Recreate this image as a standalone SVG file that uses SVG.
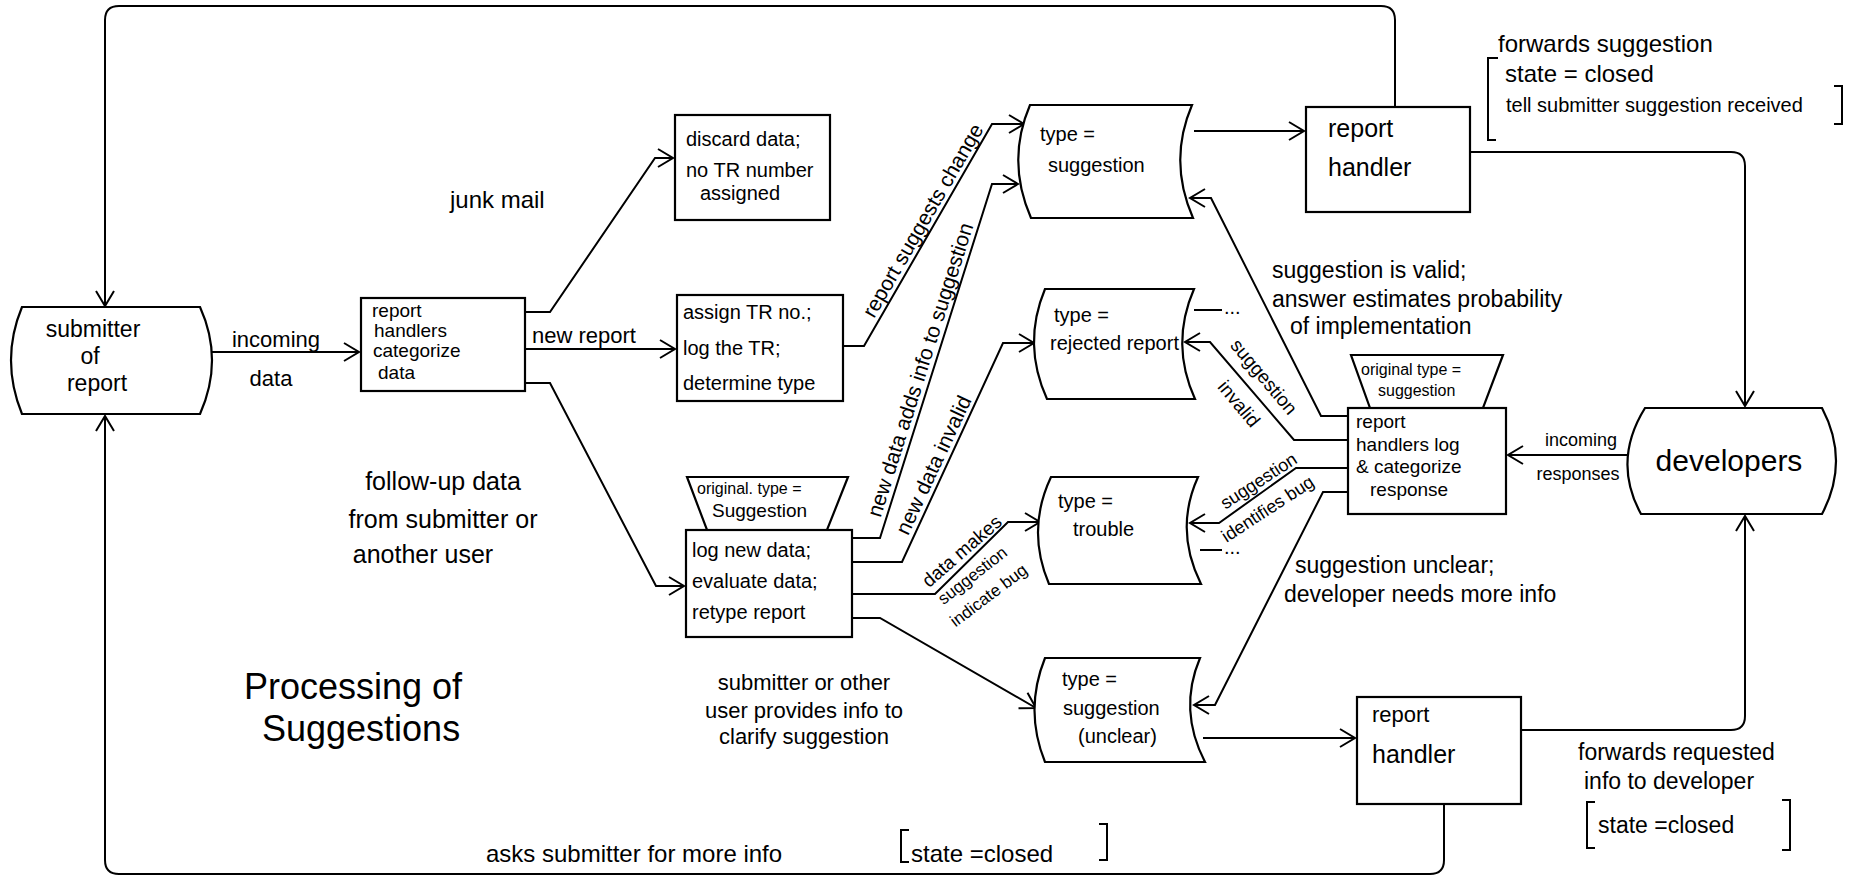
<svg xmlns="http://www.w3.org/2000/svg" width="1867" height="880" viewBox="0 0 1867 880">
<defs>
<marker id="ah" markerUnits="userSpaceOnUse" markerWidth="20" markerHeight="24" refX="16" refY="10" orient="auto">
<path d="M1,1 L16,10 L1,19" fill="none" stroke="#000" stroke-width="2"/>
</marker>
<style>
.b{fill:#fff;stroke:#000;stroke-width:2.2}
.c{fill:none;stroke:#000;stroke-width:2}
.t{font-family:"Liberation Sans",Arial,sans-serif;fill:#000}
.f16{font-size:16px}.f17{font-size:17px}.f18{font-size:18px}.f19{font-size:19px}.f20{font-size:20px}.f21{font-size:21px}.f22{font-size:22px}.f23{font-size:23px}.f24{font-size:24px}.f25{font-size:25px}
.m{text-anchor:middle}
</style>
</defs>
<rect width="1867" height="880" fill="#fff"/>

<g id="connectors">
<path class="c" d="M1395,107 L1395,20 Q1395,6 1381,6 L119,6 Q105,6 105,20 L105,306" marker-end="url(#ah)"/>
<path class="c" d="M212,352 L359,352" marker-end="url(#ah)"/>
<path class="c" d="M525,312 L550,312 L655,158 L673,158" marker-end="url(#ah)"/>
<path class="c" d="M525,349 L675,349" marker-end="url(#ah)"/>
<path class="c" d="M525,383 L550,383 L656,586 L684,586" marker-end="url(#ah)"/>
<path class="c" d="M843,346 L864,346 L992,124 L1024,124" marker-end="url(#ah)"/>
<path class="c" d="M852,538 L880,538 L992,184 L1018,184" marker-end="url(#ah)"/>
<path class="c" d="M852,562 L902,562 L1003,343 L1034,343" marker-end="url(#ah)" stroke-width="2.8"/>
<path class="c" d="M852,594 L935,594 L1008,522 L1040,522" marker-end="url(#ah)"/>
<path class="c" d="M852,618 L880,618 L1036,708" marker-end="url(#ah)"/>
<path class="c" d="M1194,131 L1304,131" marker-end="url(#ah)"/>
<path class="c" d="M1470,152 L1731,152 Q1745,152 1745,166 L1745,406" marker-end="url(#ah)"/>
<path class="c" d="M1627,455 L1508,455" marker-end="url(#ah)"/>
<path class="c" d="M1348,416 L1321,416 L1211,198 L1190,198" marker-end="url(#ah)"/>
<path class="c" d="M1348,440 L1294,440 L1210,342 L1185,342" marker-end="url(#ah)"/>
<path class="c" d="M1348,468 L1296,468 L1219,523 L1190,523" marker-end="url(#ah)"/>
<path class="c" d="M1348,492 L1323,492 L1215,705 L1194,705" marker-end="url(#ah)"/>
<path class="c" d="M1203,738 L1355,738" marker-end="url(#ah)"/>
<path class="c" d="M1521,730 L1731,730 Q1745,730 1745,716 L1745,516" marker-end="url(#ah)"/>
<path class="c" d="M1444,804 L1444,860 Q1444,874 1430,874 L119,874 Q105,874 105,860 L105,416" marker-end="url(#ah)"/>
<path class="c" d="M1194,310 L1222,310"/>
<path class="c" d="M1200,550 L1222,550"/>
<text class="t f20" x="1224" y="314">...</text>
<text class="t f20" x="1224" y="554">...</text>
</g>

<g id="labels">
<text class="t f22 m" x="276" y="347">incoming</text>
<text class="t f22 m" x="271" y="386">data</text>
<text class="t f24" x="450" y="208">junk mail</text>
<text class="t f22" x="532" y="343">new report</text>
<text class="t f25 m" x="443" y="490">follow-up data</text>
<text class="t f25 m" x="443" y="528">from submitter or</text>
<text class="t f25 m" x="423" y="563">another user</text>
<text class="t" x="244" y="699" font-size="36">Processing  of</text>
<text class="t" x="262" y="741" font-size="36">Suggestions</text>
<text class="t f22 m" x="804" y="690">submitter or other</text>
<text class="t f22 m" x="804" y="718">user provides info to</text>
<text class="t f22 m" x="804" y="744">clarify suggestion</text>
<text class="t f21 m" transform="translate(929,224) rotate(-59.9)">report suggests change</text>
<text class="t f21 m" transform="translate(927,372) rotate(-72.4)">new data adds info to suggestion</text>
<text class="t f21 m" transform="translate(940,468) rotate(-64.9)">new data invalid</text>
<text class="t f19 m" transform="translate(966,556) rotate(-41)">data makes</text>
<text class="t f17 m" transform="translate(976,580) rotate(-38)">suggestion</text>
<text class="t f17 m" transform="translate(992,600) rotate(-37)">indicate bug</text>
<text class="t f19 m" transform="translate(1259,381) rotate(50)">suggestion</text>
<text class="t f19 m" transform="translate(1234,408) rotate(50)">invalid</text>
<text class="t f18 m" transform="translate(1262,486) rotate(-33)">suggestion</text>
<text class="t f18 m" transform="translate(1271,514) rotate(-33)">identifies bug</text>
<text class="t f23" x="1272" y="278">suggestion is valid;</text>
<text class="t f23" x="1272" y="307">answer estimates probability</text>
<text class="t f23" x="1290" y="334">of implementation</text>
<text class="t f23" x="1295" y="573">suggestion unclear;</text>
<text class="t f23" x="1284" y="602">developer needs more info</text>
<text class="t f18 m" x="1581" y="446">incoming</text>
<text class="t f18 m" x="1578" y="480">responses</text>
<text class="t f24" x="1498" y="52">forwards suggestion</text>
<text class="t f24" x="1505" y="82">state  =  closed</text>
<text class="t f20" x="1506" y="112">tell submitter suggestion received</text>
<path class="c" d="M1498,58 L1488,58 L1488,140 L1496,140"/>
<path class="c" d="M1834,86 L1842,86 L1842,124 L1834,124"/>
<text class="t f23" x="1578" y="760">forwards requested</text>
<text class="t f23" x="1584" y="789">info to developer</text>
<text class="t f23" x="1598" y="833">state =closed</text>
<path class="c" d="M1595,802 L1587,802 L1587,848 L1595,848"/>
<path class="c" d="M1782,800 L1790,800 L1790,850 L1782,850"/>
<text class="t f24" x="486" y="862">asks submitter for more info</text>
<text class="t f24" x="911" y="862">state =closed</text>
<path class="c" d="M909,830 L901,830 L901,862 L909,862"/>
<path class="c" d="M1099,824 L1107,824 L1107,860 L1099,860"/>
</g>

<g id="submitter">
<path class="b" d="M22,307 L200,307 Q224,360 200,414 L22,414 Q0,360 22,307 Z"/>
<text class="t f23 m" x="93" y="337">submitter</text>
<text class="t f23 m" x="90" y="364">of</text>
<text class="t f23 m" x="97" y="391">report</text>
</g>

<g id="categorize">
<rect class="b" x="361" y="298" width="164" height="93"/>
<text class="t f19" x="372" y="317">report</text>
<text class="t f19" x="374" y="337">handlers</text>
<text class="t f19" x="373" y="357">categorize</text>
<text class="t f19" x="378" y="379">data</text>
</g>

<g id="discard">
<rect class="b" x="675" y="115" width="155" height="105"/>
<text class="t f20" x="686" y="146">discard data;</text>
<text class="t f20" x="686" y="177">no TR number</text>
<text class="t f20" x="700" y="200">assigned</text>
</g>

<g id="assign">
<rect class="b" x="677" y="295" width="166" height="106"/>
<text class="t f20" x="683" y="319">assign TR no.;</text>
<text class="t f20" x="683" y="355">log the TR;</text>
<text class="t f20" x="683" y="390">determine type</text>
</g>

<g id="lognew">
<path class="b" d="M687,477 L848,477 L827,530 L707,530 Z"/>
<text class="t f16" x="697" y="494">original. type =</text>
<text class="t f19" x="712" y="517">Suggestion</text>
<rect class="b" x="686" y="530" width="166" height="107"/>
<text class="t f20" x="692" y="557">log new data;</text>
<text class="t f20" x="692" y="588">evaluate data;</text>
<text class="t f20" x="692" y="619">retype report</text>
</g>

<g id="suggestion">
<path class="b" d="M1030,105 L1192,105 Q1168,161 1193,218 L1031,218 Q1006,161 1030,105 Z"/>
<text class="t f20" x="1040" y="141">type =</text>
<text class="t f20" x="1048" y="172">suggestion</text>
</g>

<g id="rejected">
<path class="b" d="M1045,289 L1194,289 Q1170,344 1195,399 L1047,399 Q1022,344 1045,289 Z"/>
<text class="t f20" x="1054" y="322">type =</text>
<text class="t f20" x="1050" y="350">rejected report</text>
</g>

<g id="trouble">
<path class="b" d="M1051,477 L1198,477 Q1174,530 1201,584 L1049,584 Q1026,530 1051,477 Z"/>
<text class="t f20" x="1058" y="508">type =</text>
<text class="t f20" x="1073" y="536">trouble</text>
</g>

<g id="unclear">
<path class="b" d="M1045,658 L1200,658 Q1178,710 1205,762 L1045,762 Q1024,710 1045,658 Z"/>
<text class="t f20" x="1062" y="686">type =</text>
<text class="t f20" x="1063" y="715">suggestion</text>
<text class="t f20" x="1078" y="743">(unclear)</text>
</g>

<g id="handler_top">
<rect class="b" x="1306" y="107" width="164" height="105"/>
<text class="t f25" x="1328" y="137">report</text>
<text class="t f25" x="1328" y="176">handler</text>
</g>

<g id="handlers_log">
<path class="b" d="M1351,355 L1503,355 L1483,408 L1370,408 Z"/>
<text class="t f16" x="1361" y="375">original type =</text>
<text class="t f16" x="1378" y="396">suggestion</text>
<rect class="b" x="1348" y="408" width="158" height="106"/>
<text class="t f19" x="1356" y="428">report</text>
<text class="t f19" x="1356" y="451">handlers log</text>
<text class="t f19" x="1356" y="473">&amp; categorize</text>
<text class="t f19" x="1370" y="496">response</text>
</g>

<g id="developers">
<path class="b" d="M1645,408 L1822,408 Q1850,461 1822,514 L1641,514 Q1612,461 1645,408 Z"/>
<text class="t m" x="1729" y="471" font-size="30">developers</text>
</g>

<g id="handler_bottom">
<rect class="b" x="1357" y="697" width="164" height="107"/>
<text class="t f22" x="1372" y="722">report</text>
<text class="t f25" x="1372" y="763">handler</text>
</g>
</svg>
